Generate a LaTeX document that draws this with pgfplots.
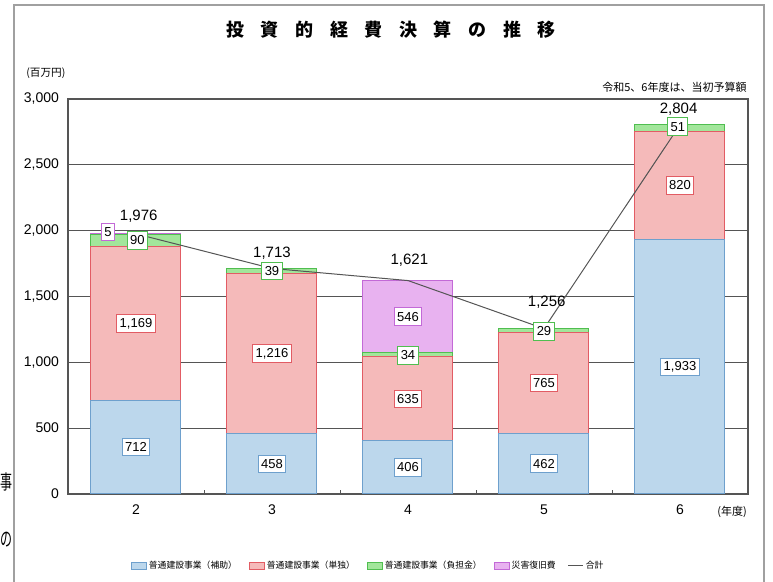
\documentclass[border=0pt]{standalone}
\usepackage{pgfplots}
\pgfplotsset{compat=1.18}
\usepackage{fontspec}
\setmainfont{Liberation Sans}
\newfontfamily\cjk{Noto Sans CJK JP}
\definecolor{blueF}{RGB}{188,215,236}
\definecolor{blueD}{RGB}{110,160,205}
\definecolor{redF}{RGB}{245,186,186}
\definecolor{redD}{RGB}{226,92,100}
\definecolor{greenF}{RGB}{162,230,155}
\definecolor{greenD}{RGB}{80,190,80}
\definecolor{purpF}{RGB}{232,178,240}
\definecolor{purpD}{RGB}{195,105,215}
\definecolor{gridc}{RGB}{85,85,85}
\definecolor{framec}{RGB}{160,160,160}
\begin{document}
\begin{tikzpicture}[
  lab/.style={draw=#1, fill=white, line width=0.5pt, inner sep=1.4pt, minimum height=8.8pt, font=\fontsize{6.5}{7}\selectfont},
  tot/.style={font=\fontsize{7.5}{8}\selectfont, inner sep=0pt}]
\useasboundingbox (0pt,0pt) rectangle (386.5pt,-291pt);
\clip (0pt,0pt) rectangle (386.5pt,-291pt);
\draw[framec, line width=0.6pt] (7pt,-2.5pt) rectangle (382pt,-320pt);
% text at the left edge (outside the frame)
\node[inner sep=0pt, anchor=west] at (0pt,-241pt) {\scalebox{0.6}[1]{\cjk\fontsize{10}{11}\selectfont 事}};
\node[inner sep=0pt, anchor=west] at (0pt,-270pt) {\scalebox{0.6}[1]{\cjk\fontsize{10}{11}\selectfont の}};
% title
\node[font=\cjk\bfseries\fontsize{9}{10}\selectfont] at (195.5pt,-15pt)
  {投\hspace{8.3pt}資\hspace{8.3pt}的\hspace{8.3pt}経\hspace{8.3pt}費\hspace{8.3pt}決\hspace{8.3pt}算\hspace{8.3pt}の\hspace{8.3pt}推\hspace{8.3pt}移};
\node[anchor=west, inner sep=0pt, font=\cjk\fontsize{5.3}{6}\selectfont] at (13pt,-36.5pt) {(百万円)};
\node[anchor=east, inner sep=0pt, font=\cjk\fontsize{5.5}{6}\selectfont] at (373.5pt,-43.5pt) {令和5、6年度は、当初予算額};
\node[inner sep=0pt, font=\cjk\fontsize{5.5}{6}\selectfont] at (366pt,-256pt) {(年度)};

\begin{axis}[
  at={(34pt,-247pt)}, anchor=south west,
  scale only axis, width=340pt, height=197.5pt,
  xmin=-0.5, xmax=4.5, ymin=0, ymax=3000,
  ybar stacked, bar width=45pt, stacked ignores zero,
  xtick={0,1,2,3,4}, xticklabels={2,3,4,5,6},
  minor xtick={0.5,1.5,2.5,3.5},
  ytick={0,500,1000,1500,2000,2500,3000},
  /pgf/number format/.cd, 1000 sep={,}, assume math mode=true, /pgfplots/.cd,
  ticklabel style={font=\fontsize{7}{8}\selectfont},
  xticklabel style={yshift=-2pt},
  yticklabel style={xshift=-1pt},
  x tick style={draw=none},
  y tick style={draw=none},
  minor x tick style={draw=gridc, line width=0.4pt},
  minor tick length=2pt,
  major tick length=2.5pt,
  tick pos=left, ytick align=inside, xtick align=inside,
  ymajorgrids, grid style={gridc, line width=0.5pt},
  axis line style={gridc, line width=0.6pt},
  legend columns=5,
  legend style={at={(0.4415,-0.182)}, anchor=center, draw=none, fill=none,
    font=\cjk\fontsize{4.4}{5}\selectfont,
    /tikz/every even column/.append style={column sep=5pt},
    nodes={inner sep=1pt}},
  legend image code/.code={\draw[#1, line width=0.5pt] (0pt,-1.6pt) rectangle (7.5pt,1.6pt);},
]
\addplot[fill=blueF, draw=blueD, line width=0.5pt] coordinates {(0,712) (1,458) (2,406) (3,462) (4,1933)};
\addplot[fill=redF, draw=redD, line width=0.5pt] coordinates {(0,1169) (1,1216) (2,635) (3,765) (4,820)};
\addplot[fill=greenF, draw=greenD, line width=0.5pt] coordinates {(0,90) (1,39) (2,34) (3,29) (4,51)};
\addplot[fill=purpF, draw=purpD, line width=0.5pt] coordinates {(0,5) (1,0) (2,546) (3,0) (4,0)};
\addlegendentry{普通建設事業（補助）}
\addlegendentry{普通建設事業（単独）}
\addlegendentry{普通建設事業（負担金）}
\addlegendentry{災害復旧費}
\addlegendimage{legend image code/.code={\draw[gridc, line width=0.6pt] (0pt,0pt) -- (7.5pt,0pt);}}
\addlegendentry{合計}
\end{axis}

\begin{axis}[
  at={(34pt,-247pt)}, anchor=south west,
  scale only axis, width=340pt, height=197.5pt,
  xmin=-0.5, xmax=4.5, ymin=0, ymax=3000,
  hide axis, clip=false,
]
\addplot[gridc, line width=0.5pt] coordinates {(0,1976) (1,1713) (2,1621) (3,1256) (4,2804)};
% segment labels
\node[lab=blueD] at (axis cs:0,356) {712};
\node[lab=blueD] at (axis cs:1,229) {458};
\node[lab=blueD] at (axis cs:2,203) {406};
\node[lab=blueD] at (axis cs:3,231) {462};
\node[lab=blueD] at (axis cs:4,966) {1,933};
\node[lab=redD] at (axis cs:0,1296) {1,169};
\node[lab=redD] at (axis cs:1,1066) {1,216};
\node[lab=redD] at (axis cs:2,723) {635};
\node[lab=redD] at (axis cs:3,844) {765};
\node[lab=redD] at (axis cs:4,2343) {820};
\node[lab=greenD] at (axis cs:0.01,1926) {90};
\node[lab=greenD] at (axis cs:1,1693) {39};
\node[lab=greenD] at (axis cs:2,1052) {34};
\node[lab=greenD] at (axis cs:3,1236) {29};
\node[lab=greenD] at (axis cs:3.985,2790) {51};
\node[lab=purpD] at (axis cs:-0.206,1990) {5};
\node[lab=purpD] at (axis cs:2,1346) {546};
% totals
\node[tot] at (axis cs:0.02,2111) {1,976};
\node[tot] at (axis cs:1,1830) {1,713};
\node[tot] at (axis cs:2.01,1777) {1,621};
\node[tot] at (axis cs:3.02,1458) {1,256};
\node[tot] at (axis cs:3.99,2924) {2,804};
\end{axis}
\end{tikzpicture}
\end{document}
